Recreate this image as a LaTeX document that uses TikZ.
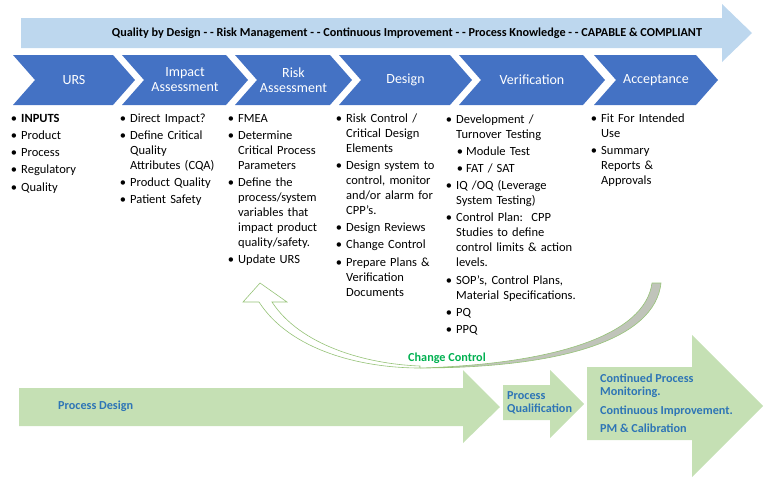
\documentclass[tikz,border=0pt]{standalone}
\usepackage{fontspec}
\setmainfont{Carlito}
\usepackage{enumitem}
\usetikzlibrary{positioning}

\definecolor{chevblue}{RGB}{68,114,196}
\definecolor{topblue}{RGB}{189,215,238}
\definecolor{phasegreen}{RGB}{197,224,180}
\definecolor{phaseblue}{RGB}{46,117,182}
\definecolor{ccgreen}{RGB}{0,176,80}
\definecolor{curvegreen}{RGB}{150,195,120}
\definecolor{backgray}{RGB}{192,196,186}

\setlist[itemize,1]{label=\textbullet,leftmargin=10pt,labelsep=4pt,itemsep=2.2pt,topsep=0pt,partopsep=0pt,parsep=0pt}
\setlist[itemize,2]{label=\textbullet,leftmargin=10pt,labelsep=3pt,itemsep=2.2pt,topsep=2pt,partopsep=0pt,parsep=0pt}

\begin{document}
\begin{tikzpicture}[x=1pt,y=-1pt]
\useasboundingbox (0,0) rectangle (768,477);

\tikzstyle{heads}=[text=white,align=center,font=\fontsize{14}{15}\selectfont,inner sep=0pt]
\tikzstyle{lists}=[anchor=north west,inner sep=0pt,text width=150pt,font=\fontsize{12.5}{15}\selectfont]
\tikzstyle{phase}=[text=phaseblue,align=left,font=\bfseries\fontsize{12.2}{13}\selectfont,inner sep=0pt]

%Top arrow
\fill[topblue] (21,18) -- (722,18) -- (722,4) -- (752,33) -- (722,62) -- (722,48) -- (21,48) -- cycle;
\node[inner sep=0pt,font=\bfseries\fontsize{12.2}{14}\selectfont] (Q) at (407,33)
  {Quality by Design - - Risk Management - - Continuous Improvement - - Process Knowledge - - CAPABLE \& COMPLIANT};

%Chevrons
\foreach \name/\l/\r [count=\i] in {URS/13/113, {Impact\\Assessment}/122/226, {Risk\\Assessment}/235/330,
    Design/339/450, Verification/459/583, Acceptance/594/696}
  {\fill[chevblue] (\l,55) -- (\r,55) -- (\r+22,80) -- (\r,105) -- (\l,105) -- (\l+22,80) -- cycle;
   \node[heads] (C-\i) at ({(\l+\r+22)/2},80) {\name};}

%Lists under chevrons
\node[lists] (L-1) at (11,107) {\begin{itemize}
  \item \textbf{INPUTS}
  \item Product
  \item Process
  \item Regulatory
  \item Quality
  \end{itemize}};
\node[lists] (L-2) at (120,107) {\begin{itemize}
  \item Direct Impact?
  \item Define Critical\\Quality\\Attributes (CQA)
  \item Product Quality
  \item Patient Safety
  \end{itemize}};
\node[lists] (L-3) at (228,107) {\begin{itemize}
  \item FMEA
  \item Determine\\Critical Process\\Parameters
  \item Define the\\process/system\\variables that\\impact product\\quality/safety.
  \item Update URS
  \end{itemize}};
\node[lists] (L-4) at (336,107) {\begin{itemize}
  \item Risk Control /\\Critical Design\\Elements
  \item Design system to\\control, monitor\\and/or alarm for\\CPP's.
  \item Design Reviews
  \item Change Control
  \item Prepare Plans \&\\Verification\\Documents
  \end{itemize}};
\node[lists] (L-5) at (446,108) {\begin{itemize}
  \item Development /\\Turnover Testing
    \begin{itemize}
    \item Module Test
    \item FAT / SAT
    \end{itemize}
  \item IQ /OQ (Leverage\\System Testing)
  \item Control Plan:\ \ CPP\\Studies to define\\control limits \& action\\levels.
  \item SOP's, Control Plans,\\Material Specifications.
  \item PQ
  \item PPQ
  \end{itemize}};
\node[lists] (L-6) at (591,107) {\begin{itemize}
  \item Fit For Intended\\Use
  \item Summary\\Reports \&\\Approvals
  \end{itemize}};

%Change control arrow
\filldraw[fill=backgray,draw=curvegreen,line width=0.6pt] (652,283) -- (661,283)
  .. controls (655,340) and (560,368) .. (420,368)
  .. controls (555,364) and (645,335) .. (652,283) -- cycle;
\filldraw[fill=white,draw=curvegreen,line width=0.6pt] (420,368)
  .. controls (360,368) and (290,350) .. (259,302) -- (243,302) -- (260,283) -- (287,302) -- (272,302)
  .. controls (300,345) and (365,364) .. (420,366) -- cycle;
\node[inner sep=0pt,text=ccgreen,font=\bfseries\fontsize{12.2}{13}\selectfont] (CC) at (447,358) {Change Control};

%Phase arrows
\fill[phasegreen] (19,388) -- (463,388) -- (463,370) -- (500,407) -- (463,443) -- (463,426) -- (19,426) -- cycle;
\fill[phasegreen] (503,385) -- (550,385) -- (550,370) -- (584,404) -- (550,438) -- (550,420) -- (503,420) -- cycle;
\fill[phasegreen] (587,367) -- (692,367) -- (692,335) -- (763,406) -- (692,477) -- (692,440) -- (587,440) -- cycle;
\node[phase,anchor=west] (P-1) at (58,406) {Process Design};
\node[phase,anchor=west] (P-2) at (507,403) {Process\\Qualification};
\node[phase,anchor=north west] (P-3) at (600,374) {Continued Process\\Monitoring.\\[6pt]Continuous Improvement.\\[5pt]PM \& Calibration};

\end{tikzpicture}
\end{document}
